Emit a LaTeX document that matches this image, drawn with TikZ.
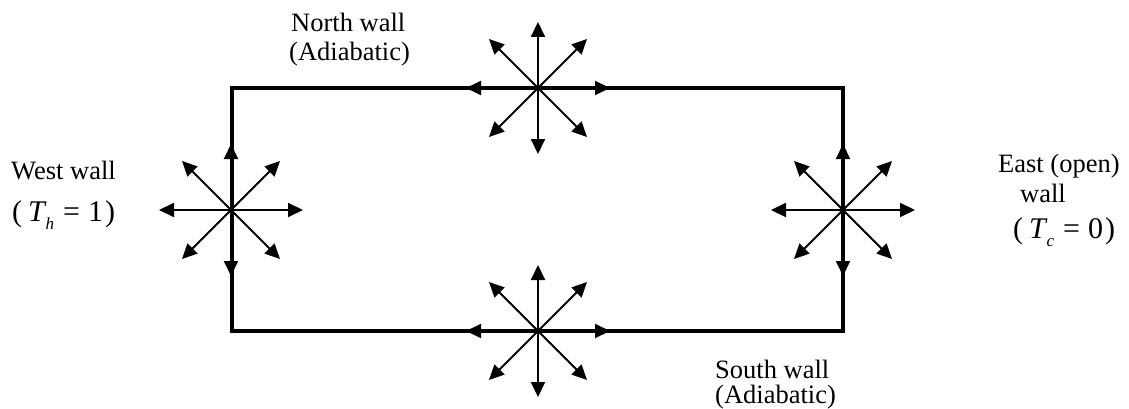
\documentclass[tikz,border=0pt]{standalone}
\usepackage{fontspec}
\setmainfont{Liberation Serif}
\usetikzlibrary{arrows.meta,calc}
\begin{document}
\begin{tikzpicture}[x=1pt,y=-1pt,
  wall/.style={line width=3.4pt,line join=miter},
  ray/.style={line width=2pt,-{Triangle[length=15pt,width=14pt]}},
  lbl/.style={font=\fontsize{26.5}{28}\selectfont,inner sep=0pt,anchor=base west},
  mth/.style={font=\fontsize{30}{32}\selectfont,inner sep=0pt,anchor=base west}]
\useasboundingbox (0,0) rectangle (1129,409);
% walls
\coordinate (NW) at (232,88);
\coordinate (NE) at (843,88);
\coordinate (SE) at (843,331);
\coordinate (SW) at (232,331);
\draw[wall] (NW) -- (NE) -- (SE) -- (SW) -- cycle;
% star centres
\coordinate (cN) at (538,88);
\coordinate (cW) at (231,210);
\coordinate (cE) at (843,210);
\coordinate (cS) at (538,331);
\foreach \c in {cN,cW,cE,cS}{
  \foreach \dx/\dy in {72/0,-72/0,0/66,0/-66,49/49,49/-49,-49/49,-49/-49}{
    \draw[ray] (\c) -- ++(\dx,\dy);
  }
}
% labels
\node[lbl] (n1) at (291,32) {North wall};
\node[lbl] (n2) at (289,61) {(Adiabatic)};
\node[lbl] (w1) at (11,179) {West wall};
\node[mth] (w2) at (12,221) {(\hspace{6pt}\textit{T}\hspace{-1pt}\raisebox{-8pt}{\fontsize{17}{17}\selectfont\textit{h}}\hspace{9pt}=\hspace{8pt}1\hspace{2pt})};
\node[lbl] (e1) at (998,172) {East (open)};
\node[lbl] (e2) at (1020,202) {wall};
\node[mth] (e3) at (1013,238) {(\hspace{6pt}\textit{T}\hspace{-1pt}\raisebox{-8pt}{\fontsize{17}{17}\selectfont\textit{c}}\hspace{9pt}=\hspace{8pt}0\hspace{2pt})};
\node[lbl] (s1) at (715,378) {South wall};
\node[lbl] (s2) at (715,403) {(Adiabatic)};
\end{tikzpicture}
\end{document}
